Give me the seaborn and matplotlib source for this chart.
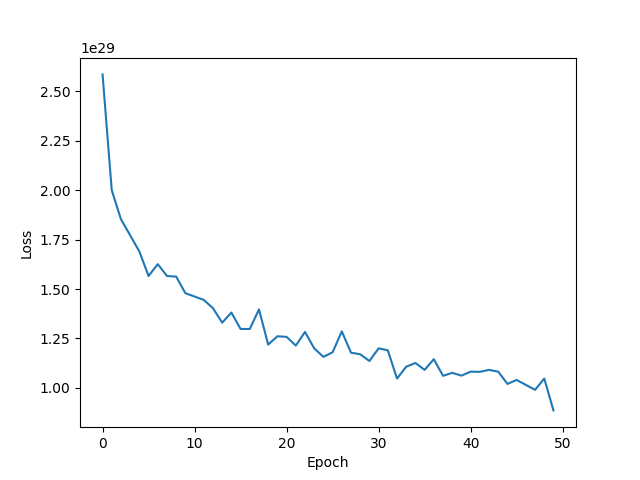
import matplotlib
matplotlib.use("Agg")
import matplotlib.pyplot as plt
import seaborn as sns
import numpy as np
import pandas as pd

epochs = list(range(50))
loss_scaled = [2.586, 2.00, 1.853, 1.772, 1.69, 1.566, 1.626, 1.566, 1.563, 1.479,
               1.462, 1.445, 1.403, 1.33, 1.381, 1.298, 1.298, 1.397, 1.219, 1.261,
               1.258, 1.214, 1.283, 1.20, 1.157, 1.18, 1.286, 1.178, 1.17, 1.136,
               1.20, 1.19, 1.047, 1.107, 1.126, 1.091, 1.145, 1.061, 1.076, 1.062,
               1.082, 1.081, 1.091, 1.082, 1.02, 1.04, 1.015, 0.99, 1.047, 0.886]
loss = [v * 1e29 for v in loss_scaled]

df = pd.DataFrame({"Epoch": epochs, "Loss": loss})

fig, ax = plt.subplots(figsize=(6.4, 4.8), dpi=100)
sns.lineplot(data=df, x="Epoch", y="Loss", ax=ax, color="#1f77b4")
ax.set_xlabel("Epoch")
ax.set_ylabel("Loss")
fig.savefig("out.png", dpi=100)
